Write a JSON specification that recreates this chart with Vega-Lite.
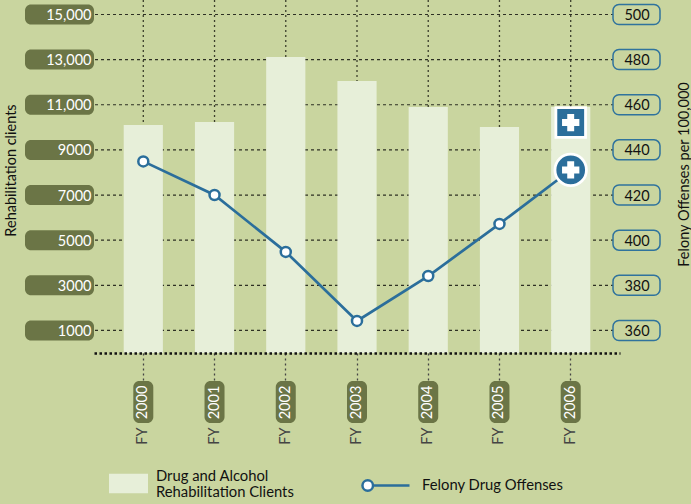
{
"$schema":"https://vega.github.io/schema/vega-lite/v6.json",
"autosize":"none",
"width":526,"height":353,
"padding":{"left":94,"top":0,"right":71,"bottom":151},
"background":"#c9d59f",
"config":{"view":{"stroke":null},"font":"Lato","text":{"font":"Lato"},"axis":{"labelFont":"Lato","titleFont":"Lato"},"legend":{"labelFont":"Lato"}},
"datasets":{
"main":[
{"year":"2000","clients":10100,"offenses":434.9,"series":"Drug and Alcohol|Rehabilitation Clients","line":"Felony Drug Offenses"},
{"year":"2001","clients":10235,"offenses":420,"series":"Drug and Alcohol|Rehabilitation Clients","line":"Felony Drug Offenses"},
{"year":"2002","clients":13115,"offenses":394.8,"series":"Drug and Alcohol|Rehabilitation Clients","line":"Felony Drug Offenses"},
{"year":"2003","clients":12050,"offenses":364.2,"series":"Drug and Alcohol|Rehabilitation Clients","line":"Felony Drug Offenses"},
{"year":"2004","clients":10900,"offenses":384.1,"series":"Drug and Alcohol|Rehabilitation Clients","line":"Felony Drug Offenses"},
{"year":"2005","clients":10013,"offenses":407.2,"series":"Drug and Alcohol|Rehabilitation Clients","line":"Felony Drug Offenses"},
{"year":"2006","clients":10900,"offenses":431.1,"series":"Drug and Alcohol|Rehabilitation Clients","line":"Felony Drug Offenses"}
],
"last":[{"year":"2006","clients":10212,"offenses":431.1}],
"leftTicks":[{"v":1000},{"v":3000},{"v":5000},{"v":7000},{"v":9000},{"v":11000},{"v":13000},{"v":15000}],
"rightTicks":[{"v":360},{"v":380},{"v":400},{"v":420},{"v":440},{"v":460},{"v":480},{"v":500}]
},
"layer":[
{"layer":[
 {"data":{"name":"main"},"mark":{"type":"rule","color":"#3c3f2c","strokeDash":[2,3],"strokeWidth":1.3},
  "encoding":{"x":{"field":"year","type":"nominal","sort":null,
    "scale":{"paddingInner":0.45,"paddingOuter":0.417},
    "axis":{"title":null,"zindex":1,"grid":false,
     "domainColor":"#111","domainWidth":2.5,"domainDash":[2.5,2.5],
     "tickColor":"#444","tickSize":27,"tickWidth":1.3,"tickDash":[2,3],
     "labelAngle":270,"labelAlign":"center","labelBaseline":"middle","labelPadding":22,"labelColor":"#ffffff","labelFontSize":14.5,"labelOverlap":false}}}},
 {"data":{"name":"leftTicks"},"mark":{"type":"rule","color":"#2e3024","strokeDash":[3,3],"strokeWidth":1.2},
  "encoding":{"y":{"field":"v","type":"quantitative"}}},
 {"data":{"name":"main"},"mark":{"type":"bar"},
  "encoding":{
   "x":{"field":"year","type":"nominal","sort":null},
   "y":{"field":"clients","type":"quantitative",
    "scale":{"domain":[0,15642],"nice":false,"zero":false},
    "axis":{"title":"Rehabilitation clients","titleFontSize":14.5,"titleFontWeight":"normal","titleColor":"#111","titleX":-76,"titleY":170,"titleAngle":270,
     "values":[1000,3000,5000,7000,9000,11000,13000,15000],
     "labelExpr":"datum.value>=10000?format(datum.value,','):format(datum.value,'d')",
     "zindex":1,"grid":false,"domain":false,"ticks":false,"labelColor":"#ffffff","labelFontSize":14.5,"labelPadding":3,"labelOffset":1,"labelOverlap":false}},
   "fill":{"field":"series","type":"nominal","scale":{"range":["#e7efd9"]},
    "legend":{"title":null,"orient":"none","legendX":15,"legendY":457,"symbolType":"M-1,-0.14H1V0.86H-1Z","symbolSize":1521,"symbolStrokeWidth":0,"symbolOpacity":1,"labelFontSize":14.8,"labelColor":"#111","labelLimit":300,"labelOffset":8,"labelExpr":"split(datum.label,'|')"}}
  }},
 {"data":{"name":"leftTicks"},"mark":{"type":"rect","fill":"#6b7546","cornerRadius":6,"height":20},
  "encoding":{"x":{"value":-69},"x2":{"value":0},"y":{"field":"v","type":"quantitative"}}},
 {"data":{"name":"main"},"mark":{"type":"rect","fill":"#6b7546","cornerRadius":6,"width":20},
  "encoding":{"x":{"field":"year","type":"nominal","sort":null},"y":{"value":381},"y2":{"value":423}}},
 {"data":{"name":"main"},"mark":{"type":"text","text":"FY","angle":270,"fontSize":14.5,"color":"#444","align":"center","baseline":"middle"},
  "encoding":{"x":{"field":"year","type":"nominal","sort":null},"y":{"value":436}}},
 {"data":{"name":"last"},"mark":{"type":"point","shape":"square","filled":true,"fill":"#2b6e9b","stroke":"#ffffff","strokeWidth":2.8,"size":880,"opacity":1},
  "encoding":{"x":{"field":"year","type":"nominal","sort":null},"y":{"field":"clients","type":"quantitative"}}},
 {"data":{"name":"last"},"mark":{"type":"point","shape":"cross","filled":true,"fill":"#ffffff","size":300,"opacity":1,"strokeWidth":0},
  "encoding":{"x":{"field":"year","type":"nominal","sort":null},"y":{"field":"clients","type":"quantitative"}}}
]},
{"layer":[
 {"data":{"name":"rightTicks"},"mark":{"type":"rect","fill":"#c9d59f","stroke":"#2f739d","strokeWidth":1.5,"cornerRadius":6,"height":20},
  "encoding":{"x":{"value":519},"x2":{"value":566},
   "y":{"field":"v","type":"quantitative","scale":{"domain":[350,506.4],"nice":false,"zero":false},
    "axis":{"orient":"right","title":"Felony Offenses per 100,000","titleFontSize":14.5,"titleFontWeight":"normal","titleColor":"#111","titleAngle":270,"titleX":71,"titleY":174,
     "values":[360,380,400,420,440,460,480,500],"zindex":1,"grid":false,"domain":false,"ticks":false,"labelColor":"#111","labelFontSize":14.5,"labelAlign":"center","labelPadding":16.5,"labelOffset":1,"labelOverlap":false}}}},
 {"data":{"name":"main"},"mark":{"type":"line","strokeWidth":2.7},
  "encoding":{"x":{"field":"year","type":"nominal","sort":null},"y":{"field":"offenses","type":"quantitative"},
   "stroke":{"field":"line","type":"nominal","scale":{"range":["#2b6e9b"]},
    "legend":{"title":null,"orient":"none","legendX":266,"legendY":460,"symbolType":"M-0.96,0A0.22,0.22 0 1,1 -0.52,0A0.22,0.22 0 1,1 -0.96,0ZM-0.52,0L1,0","symbolSize":2304,"symbolFillColor":"#ffffff","symbolStrokeColor":"#2b6e9b","symbolStrokeWidth":2.5,"labelFontSize":14.8,"labelColor":"#111","labelLimit":300,"labelOffset":11}}}},
 {"data":{"name":"main"},"mark":{"type":"point","shape":"circle","filled":true,"fill":"#ffffff","stroke":"#2b6e9b","strokeWidth":2.5,"size":100,"opacity":1},
  "encoding":{"x":{"field":"year","type":"nominal","sort":null},"y":{"field":"offenses","type":"quantitative"}}},
 {"data":{"name":"last"},"mark":{"type":"point","shape":"circle","filled":true,"fill":"#2b6e9b","stroke":"#ffffff","strokeWidth":2.8,"size":992,"opacity":1},
  "encoding":{"x":{"field":"year","type":"nominal","sort":null},"y":{"field":"offenses","type":"quantitative"}}},
 {"data":{"name":"last"},"mark":{"type":"point","shape":"cross","filled":true,"fill":"#ffffff","size":300,"opacity":1,"strokeWidth":0},
  "encoding":{"x":{"field":"year","type":"nominal","sort":null},"y":{"field":"offenses","type":"quantitative"}}}
]}
],
"resolve":{"scale":{"y":"independent"}}
}
